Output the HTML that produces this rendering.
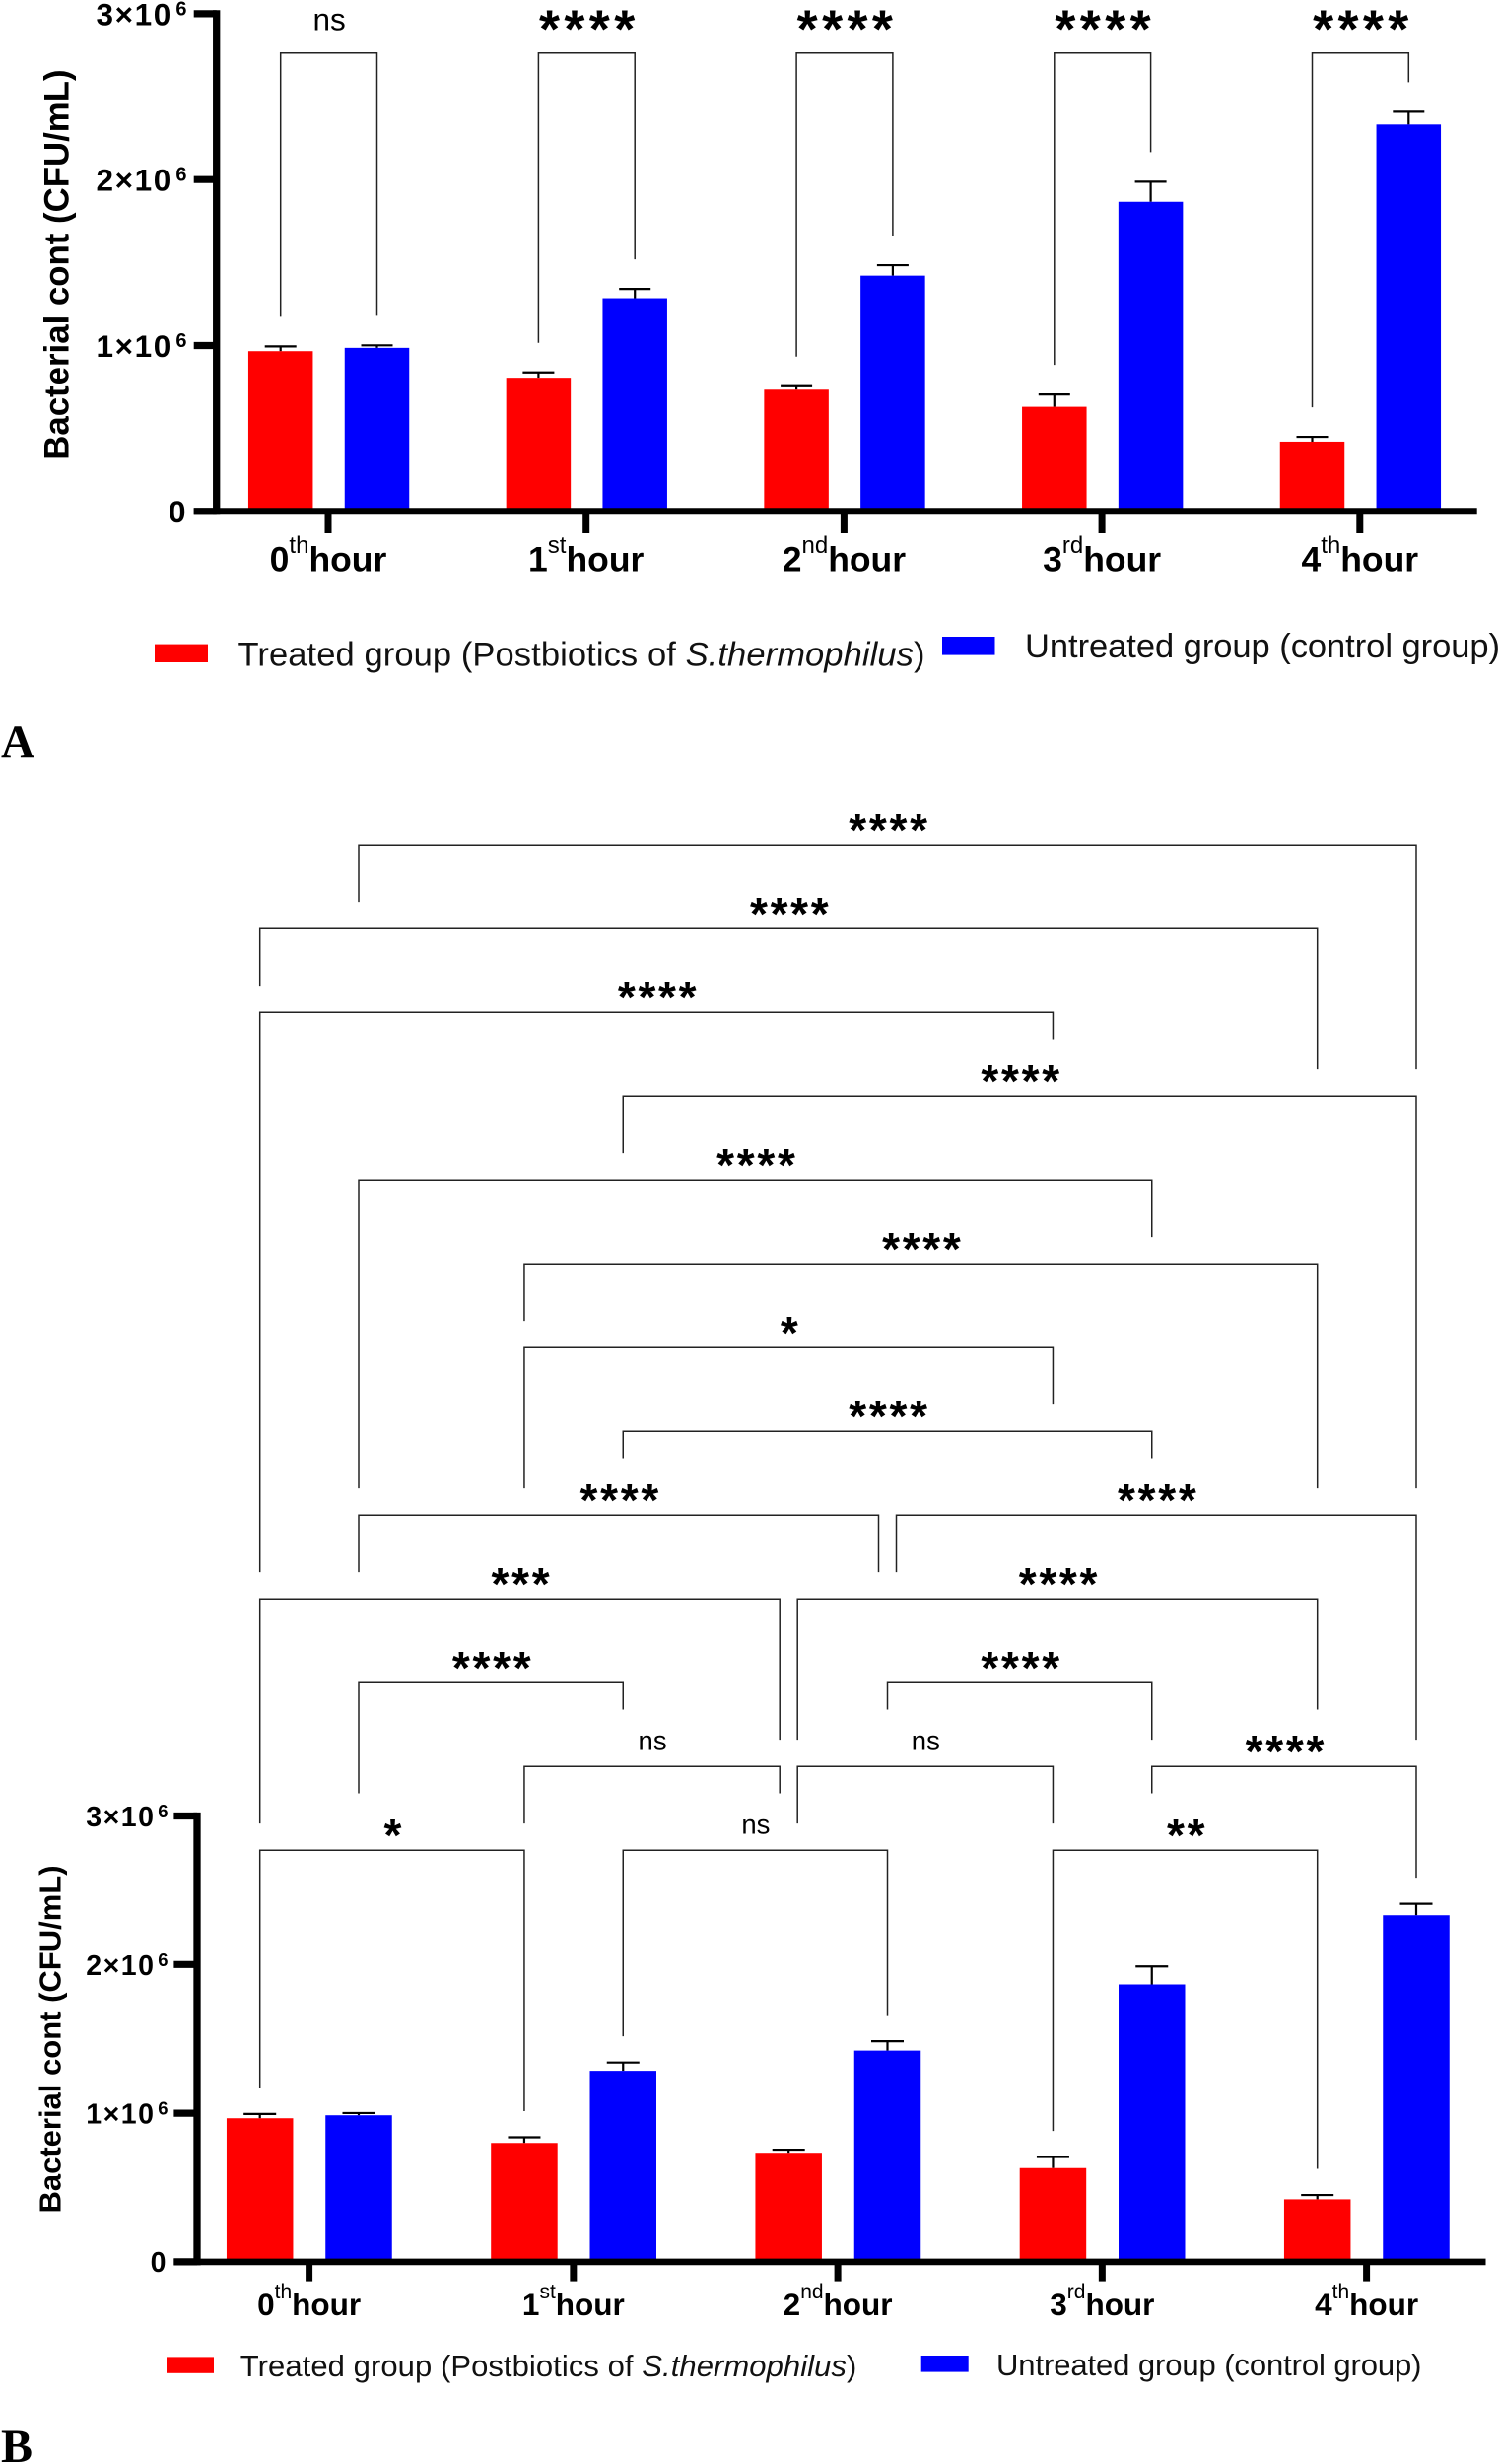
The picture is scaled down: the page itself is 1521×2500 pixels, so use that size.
<!DOCTYPE html>
<html lang="en">
<head>
<meta charset="utf-8">
<title>Bacterial count bar charts</title>
<style>
  html, body { margin: 0; padding: 0; background: #fff; }
  svg { display: block; font-family: "Liberation Sans", Arial, sans-serif; }
</style>
</head>
<body>
<svg id="figure" xmlns="http://www.w3.org/2000/svg" width="1521" height="2500" viewBox="0 0 1521 2500">
  <rect x="0" y="0" width="1521" height="2500" fill="#fff"/>
  <g id="panel-a"></g>
  <g id="panel-b"></g>

  <g>
    <rect x="157" y="653.6" width="54" height="18.4" fill="#ff0000"/>
    <text x="241.5" y="675.5" font-size="34.5" textLength="697" fill="#111">Treated group (Postbiotics of <tspan font-style="italic">S.thermophilus</tspan>)</text>
    <rect x="956" y="646" width="53.5" height="18.6" fill="#0000ff"/>
    <text x="1040" y="667" font-size="34.5" textLength="482" fill="#111">Untreated group (control group)</text>
  </g>
  <text x="1" y="768" font-family="'Liberation Serif', serif" font-weight="bold" font-size="47">A</text>

  <g>
    <rect x="169" y="2391.4" width="48" height="16.4" fill="#ff0000"/>
    <text x="243.8" y="2411" font-size="31" textLength="625.5" fill="#111">Treated group (Postbiotics of <tspan font-style="italic">S.thermophilus</tspan>)</text>
    <rect x="934.7" y="2390" width="48" height="16.6" fill="#0000ff"/>
    <text x="1011" y="2410" font-size="31" textLength="431.5" fill="#111">Untreated group (control group)</text>
  </g>
  <text x="1" y="2498" font-family="'Liberation Serif', serif" font-weight="bold" font-size="48">B</text>
</svg>

<script>
// ---- Data ----
const categoryNumbers = ['0', '1', '2', '3', '4'];
const categoryOrdinals = ['th', 'st', 'nd', 'rd', 'th'];
const treatedMeans = [966000, 800000, 734000, 631000, 421000];
const treatedErrors = [29000, 38000, 21000, 74000, 29000];
const untreatedMeans = [986000, 1285000, 1421000, 1866000, 2332000];
const untreatedErrors = [15000, 56000, 63000, 121000, 77000];
const yTickValues = [0, 1000000, 2000000, 3000000];
const yTickLabels = ['0', '1×10', '2×10', '3×10'];
const yTickExponents = ['', '6', '6', '6'];
const panelASignificance = ['ns', '****', '****', '****', '****'];

// Panel B comparisons: bars compared (T = treated, U = untreated, + hour),
// tier of the bracket, where each leg stops (in tiers; "bar" = just above that bar's error cap).
const comparisonFrom = ['U0','T0','T0','U1','U0','T1','T1','U1','U0','U2+','T0','T2+','U0','U2','T1','T2+','U3','T0','U1','T3'];
const comparisonTo   = ['U4','T4','T3','U4','U3','T4','T3','U3','U2-','U4','T2-','T4','U1','U3','T2-','T3','U4','T1','U2','T4'];
const comparisonTier = [0,1,2,3,4,5,6,7,8,8,9,9,10,10,11,11,11,12,12,12];
const comparisonLegFrom = [0.68,1.68,8.68,3.68,7.68,5.68,7.68,7.32,8.68,8.68,11.68,10.68,11.32,10.32,11.68,11.68,11.32,'bar','bar','bar'];
const comparisonLegTo = [2.68,2.68,2.32,7.68,4.68,7.68,6.68,7.32,8.68,10.68,10.68,10.32,10.32,10.68,11.32,11.68,'bar','bar','bar','bar'];
const comparisonLabels = ['****','****','****','****','****','****','*','****','****','****','***','****','****','****','ns','ns','****','*','ns','**'];

// ---- Helpers ----
const SVG_NS = 'http://www.w3.org/2000/svg';
function make(tag, attrs, parent) {
  const node = document.createElementNS(SVG_NS, tag);
  for (const key in attrs) node.setAttribute(key, attrs[key]);
  parent.appendChild(node);
  return node;
}

function drawChart(root, prefix, L) {
  const yScale = v => L.y0 - (v / 1000000) * L.unit;
  const groupX = i => L.x0 + i * L.step;
  const seriesList = [
    { key: 'treated', means: treatedMeans, errors: treatedErrors, offset: L.offT, color: '#ff0000' },
    { key: 'untreated', means: untreatedMeans, errors: untreatedErrors, offset: L.offU, color: '#0000ff' }
  ];

  // bars and error bars
  seriesList.forEach(function (s) {
    s.means.forEach(function (mean, i) {
      const cx = groupX(i) + s.offset;
      const top = yScale(mean);
      const errTop = yScale(mean + s.errors[i]);

      const err = make('path', {
        d: 'M' + cx + ' ' + top + 'V' + errTop + 'M' + (cx - L.cap) + ' ' + errTop + 'H' + (cx + L.cap),
        stroke: '#000', 'stroke-width': 2.2, fill: 'none'
      }, root);
      
      

      const bar = make('rect', {
        x: cx - L.barW / 2, y: top, width: L.barW, height: L.y0 - top, fill: s.color
      }, root);
      
      
    });
  });

  // y axis
  const yAxis = make('path', {
    d: 'M' + L.axisX + ' ' + (yScale(3000000) - 3.6) + 'V' + (L.y0 + 3.5),
    stroke: '#000', 'stroke-width': 7.3, fill: 'none'
  }, root);
  
  

  // x axis
  const xAxis = make('path', {
    d: 'M' + L.tickLeft + ' ' + L.y0 + 'H' + L.axisRight,
    stroke: '#000', 'stroke-width': L.axisW, fill: 'none'
  }, root);
  
  

  // y ticks
  yTickValues.forEach(function (v, i) {
    const y = yScale(v);
    const tick = make('path', {
      d: 'M' + L.tickLeft + ' ' + y + 'H' + L.axisX,
      stroke: '#000', 'stroke-width': 7.2, fill: 'none'
    }, root);
    
    

    const hasExp = yTickExponents[i] !== '';
    const label = make('text', {
      x: hasExp ? L.yLabelX : L.zeroRight,
      y: y + (hasExp ? L.yLabelDy : L.zeroDy),
      'font-size': L.yFont, 'font-weight': 'bold',
      'letter-spacing': hasExp ? L.yLetter : 0,
      'text-anchor': hasExp ? 'start' : 'end',
      fill: '#000'
    }, root);
    
    
    label.appendChild(document.createTextNode(yTickLabels[i]));
    if (hasExp) {
      const sup = make('tspan', {
        dx: L.supDx, dy: L.supDy, 'font-size': L.supFont
      }, label);
      sup.textContent = yTickExponents[i];
    }
  });

  // x ticks and labels
  categoryNumbers.forEach(function (n, i) {
    const x = groupX(i);
    const tick = make('path', {
      d: 'M' + x + ' ' + L.y0 + 'V' + L.xTickEnd,
      stroke: '#000', 'stroke-width': 7, fill: 'none'
    }, root);
    
    

    const label = make('text', {
      x: x, y: L.xLabelY, 'font-size': L.xFont, 'font-weight': 'bold',
      'text-anchor': 'middle', fill: '#000'
    }, root);
    
    
    const num = make('tspan', {}, label);
    num.textContent = n;
    const ord = make('tspan', {
      dy: -L.xSupRise, 'font-size': L.xSupFont, 'font-weight': 'normal'
    }, label);
    ord.textContent = categoryOrdinals[i];
    const word = make('tspan', { dy: L.xSupRise }, label);
    word.textContent = 'hour';
  });

  // y title
  const title = make('text', {
    transform: 'translate(' + L.titleX + ' ' + L.titleY + ') rotate(-90)',
    'font-size': L.titleFont, 'font-weight': 'bold', 'text-anchor': 'middle', fill: '#000'
  }, root);
  
  
  title.textContent = 'Bacterial cont (CFU/mL)';

  return { yScale: yScale, groupX: groupX, seriesList: seriesList };
}

function drawBracket(root, name, x1, x2, yTop, yLeft, yRight, label, L) {
  const line = make('path', {
    d: 'M' + x1 + ' ' + yLeft + 'V' + yTop + 'H' + x2 + 'V' + yRight,
    stroke: '#222', 'stroke-width': 1.5, fill: 'none'
  }, root);
  
  

  const isNs = label === 'ns';
  const text = make('text', {
    x: (x1 + x2) / 2 + (isNs ? 0.5 : L.starDx),
    y: yTop + (isNs ? L.nsDy : L.starDy),
    'font-size': isNs ? L.nsFont : L.starFont,
    'font-weight': isNs ? 'normal' : 'bold',
    'letter-spacing': isNs ? 0 : L.starSpacing,
    'text-anchor': 'middle', fill: '#000'
  }, root);
  
  
  text.textContent = label;
}

// ---- Panel A ----
const layoutA = {
  x0: 333, step: 261.7, offT: -48.3, offU: 49.5, barW: 65.5, cap: 16,
  y0: 518.8, unit: 168.3, axisX: 219.7, tickLeft: 196.7, axisRight: 1498.7, axisW: 7,
  yFont: 31.5, yLetter: 1.6, yLabelX: 97.5, yLabelDy: 11.5, zeroRight: 188.5, zeroDy: 11,
  supFont: 20, supDx: 3.5, supDy: -10,
  xTickEnd: 541, xLabelY: 579.5, xFont: 35.5, xSupFont: 24, xSupRise: 18.5,
  titleX: 69.5, titleY: 268.6, titleFont: 34.8,
  starFont: 54, starSpacing: 4.4, starDx: 2.5, starDy: -6, nsFont: 31.5, nsDy: -23,
  gap: 30, bracketTop: 53.7
};
const panelA = document.getElementById('panel-a');
const chartA = drawChart(panelA, 'a', layoutA);
panelASignificance.forEach(function (label, i) {
  const [t, u] = chartA.seriesList;
  const x1 = chartA.groupX(i) + t.offset;
  const x2 = chartA.groupX(i) + u.offset;
  const yL = chartA.yScale(t.means[i] + t.errors[i]) - layoutA.gap;
  const yR = chartA.yScale(u.means[i] + u.errors[i]) - layoutA.gap;
  drawBracket(panelA, 'a-hour-' + categoryNumbers[i], x1, x2, layoutA.bracketTop, yL, yR, label, layoutA);
});

// ---- Panel B ----
const layoutB = {
  x0: 313.6, step: 268.25, offT: -49.9, offU: 50.4, barW: 67.5, cap: 16.5,
  y0: 2294.9, unit: 150.8, axisX: 200, tickLeft: 176.4, axisRight: 1507.5, axisW: 6.6,
  yFont: 28.5, yLetter: 1.5, yLabelX: 87.3, yLabelDy: 10.5, zeroRight: 168.5, zeroDy: 10,
  supFont: 18.5, supDx: 2.8, supDy: -9,
  xTickEnd: 2314.6, xLabelY: 2349, xFont: 31.5, xSupFont: 21, xSupRise: 17,
  titleX: 61.5, titleY: 2069, titleFont: 31,
  starFont: 46, starSpacing: 2.7, starDx: 2, starDy: 0.5, nsFont: 27.5, nsDy: -17,
  gap: 26.5, tierTop: 857.3, tierStep: 85, nudge: 9
};
const panelB = document.getElementById('panel-b');
const chartB = drawChart(panelB, 'b', layoutB);

function barRef(ref) {
  const s = ref[0] === 'T' ? chartB.seriesList[0] : chartB.seriesList[1];
  const i = Number(ref[1]);
  const nudge = ref[2] === '+' ? layoutB.nudge : ref[2] === '-' ? -layoutB.nudge : 0;
  return {
    x: chartB.groupX(i) + s.offset + nudge,
    capY: chartB.yScale(s.means[i] + s.errors[i])
  };
}
const tierY = t => layoutB.tierTop + t * layoutB.tierStep;
function legEnd(leg, bar) {
  return leg === 'bar' ? bar.capY - layoutB.gap : tierY(leg);
}
comparisonLabels.forEach(function (label, i) {
  const a = barRef(comparisonFrom[i]);
  const b = barRef(comparisonTo[i]);
  drawBracket(
    panelB,
    'b-' + comparisonFrom[i] + '-vs-' + comparisonTo[i],
    a.x, b.x, tierY(comparisonTier[i]),
    legEnd(comparisonLegFrom[i], a), legEnd(comparisonLegTo[i], b),
    label, layoutB
  );
});
</script>
</body>
</html>
